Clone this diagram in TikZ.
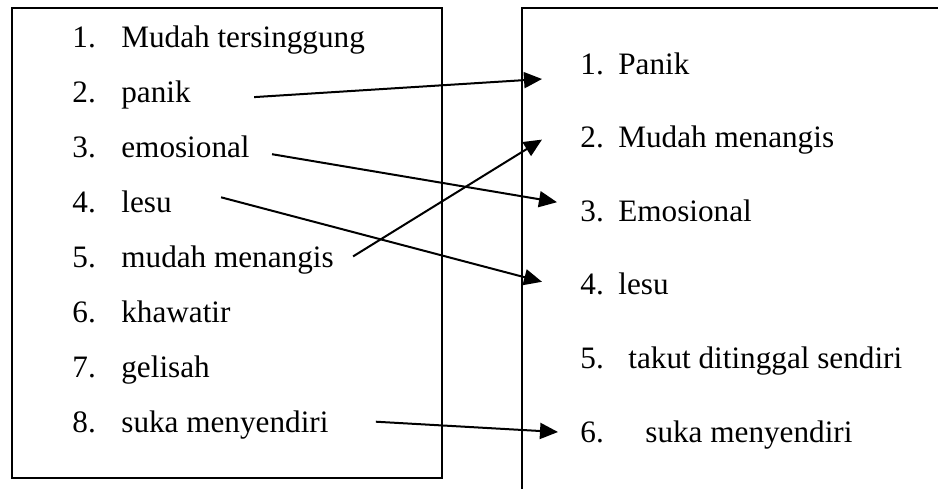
\documentclass[tikz,border=0pt]{standalone}
\usepackage{fontspec}
\setmainfont{Liberation Serif}
\usetikzlibrary{arrows.meta}
\begin{document}
\begin{tikzpicture}[x=0.5pt,y=-0.5pt,
        item/.style={anchor=base west,inner sep=0pt,font=\fontsize{15.6}{18}\selectfont},
        link/.style={line width=1pt,-{Triangle[length=9pt,width=8pt]}}]
        \useasboundingbox (0,0) rectangle (938,489);
        \draw[line width=1pt] (12,8) rectangle (442,478);
        \draw[line width=1pt] (938,8) -- (522,8) -- (522,489);
        \foreach \n/\t in {1/Mudah tersinggung,2/panik,3/emosional,4/lesu,5/mudah menangis,6/khawatir,7/gelisah,8/suka menyendiri}
            \node[item] (l\n) at (72,{47+55.1*(\n-1)}) {\makebox[24.5pt][l]{\n.}\t};
        \foreach \n/\t/\w in {1/Panik/19pt,2/Mudah menangis/19pt,3/Emosional/19pt,4/lesu/19pt,5/takut ditinggal sendiri/24pt,6/suka menyendiri/32.5pt}
            \node[item] (r\n) at (580,{74+73.6*(\n-1)}) {\makebox[\w][l]{\n.}\t};
        \draw[link] ([xshift=31.5pt,yshift=2.5pt]l2.base east) -- ([xshift=-19pt,yshift=-2.5pt]r1.base west);
        \draw[link] ([xshift=11pt,yshift=1.5pt]l3.base east) -- ([xshift=-11.5pt,yshift=9.5pt]r3.base west);
        \draw[link] ([xshift=24.5pt,yshift=7.5pt]l4.base east) -- ([xshift=-19pt,yshift=6.5pt]r4.base west);
        \draw[link] ([xshift=9.5pt,yshift=5.5pt]l5.base east) -- ([xshift=-19pt,yshift=4pt]r2.base west);
        \draw[link] ([xshift=23.5pt,yshift=5.5pt]l8.base east) -- ([xshift=-11pt,yshift=5pt]r6.base west);
\end{tikzpicture}
\end{document}
